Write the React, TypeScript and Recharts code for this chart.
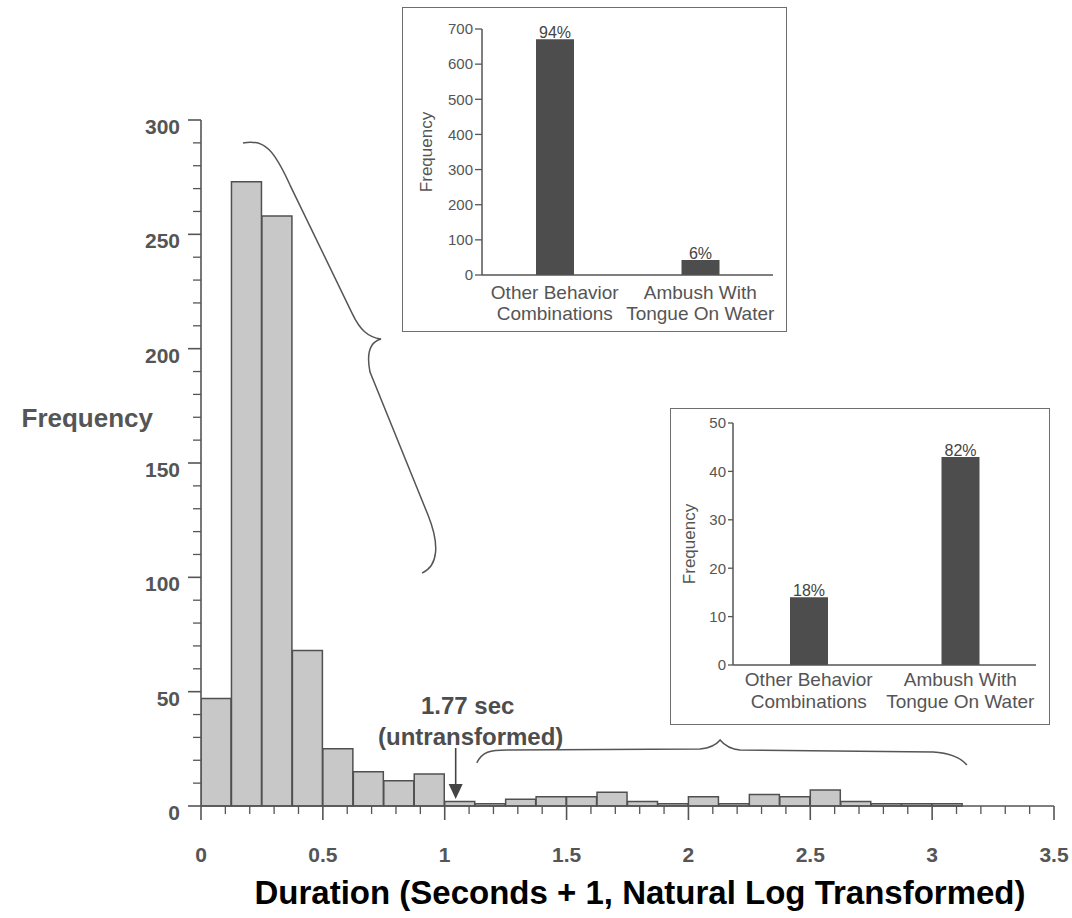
import React from 'react';
import { ComposedChart, BarChart, Bar, XAxis, YAxis, ReferenceDot, LabelList } from 'recharts';

// ---------- main histogram data (bin width 0.125, values are bin centres) ----------
const BIN_MIDS = [0.0625, 0.1875, 0.3125, 0.4375, 0.5625, 0.6875, 0.8125, 0.9375, 1.0625, 1.1875, 1.3125, 1.4375, 1.5625, 1.6875, 1.8125, 1.9375, 2.0625, 2.1875, 2.3125, 2.4375, 2.5625, 2.6875, 2.8125, 2.9375, 3.0625];
const BIN_COUNTS = [47, 273, 258, 68, 25, 15, 11, 14, 2, 1, 3, 4, 4, 6, 2, 1, 4, 1, 5, 4, 7, 2, 1, 1, 1];

const X_MAJOR_TICKS = [0, 0.5, 1, 1.5, 2, 2.5, 3, 3.5];
const X_TICK_LABELS = ['0', '0.5', '1', '1.5', '2', '2.5', '3', '3.5'];
const X_MINOR_STEP = 0.1;
const Y_MAJOR_TICKS = [0, 50, 100, 150, 200, 250, 300];
const Y_MINOR_STEP = 10;

// ---------- inset data ----------
const INSET_CATEGORIES = ['Other Behavior\nCombinations', 'Ambush With\nTongue On Water'];
const INSET1_VALUES = [671, 43];
const INSET1_PCT = ['94%', '6%'];
const INSET1_TICKS = [0, 100, 200, 300, 400, 500, 600, 700];
const INSET2_VALUES = [14, 43];
const INSET2_PCT = ['18%', '82%'];
const INSET2_TICKS = [0, 10, 20, 30, 40, 50];

// annotation anchors (data coordinates)
const ARROW_X = 1.045;
const BRACE1_TIP = { x: 0.7386, y: 204.2 };
const BRACE2_TIP = { x: 2.13, y: 28.9 };

const FONT = '"Liberation Sans", Arial, Helvetica, sans-serif';

const histData = BIN_MIDS.map((m, i) => ({ mid: m, count: BIN_COUNTS[i] }));

const allXTicks: number[] = [];
for (let i = 0; i <= Math.round(3.5 / X_MINOR_STEP); i++) allXTicks.push(Math.round(i * X_MINOR_STEP * 1000) / 1000);
const allYTicks: number[] = [];
for (let v = 0; v <= 300; v += Y_MINOR_STEP) allYTicks.push(v);

function MainYTick(props: any) {
  const { x, y, payload } = props;
  const v = payload.value;
  const major = Y_MAJOR_TICKS.includes(v);
  return (
    <g>
      <line x1={x - (major ? 13 : 8)} x2={x} y1={y} y2={y} stroke="#555" strokeWidth={major ? 1.6 : 1.3} />
      {major && (
        <text x={x - 21} y={y + 14} textAnchor="end" fontFamily={FONT} fontWeight="bold" fontSize={21} fill="#555">
          {v}
        </text>
      )}
    </g>
  );
}

function MainXTick(props: any) {
  const { x, y, payload } = props;
  const v = payload.value;
  const idx = X_MAJOR_TICKS.findIndex((m) => Math.abs(m - v) < 1e-6);
  const major = idx >= 0;
  return (
    <g>
      <line x1={x} x2={x} y1={y} y2={y + (major ? 14 : 8)} stroke="#555" strokeWidth={major ? 1.6 : 1.3} />
      {major && (
        <text x={x} y={y + 56} textAnchor="middle" fontFamily={FONT} fontWeight="bold" fontSize={21} fill="#555">
          {X_TICK_LABELS[idx]}
        </text>
      )}
    </g>
  );
}

function ArrowShape(props: any) {
  const { cx, cy } = props;
  return (
    <g transform={`translate(${cx},${cy})`}>
      <text x={12} y={-92} textAnchor="middle" fontFamily={FONT} fontWeight="bold" fontSize={24} fill="#4d4d4d">1.77 sec</text>
      <text x={15} y={-61} textAnchor="middle" fontFamily={FONT} fontWeight="bold" fontSize={24} fill="#4d4d4d">(untransformed)</text>
      <line x1={0} x2={0} y1={-58} y2={-20} stroke="#444" strokeWidth={1.6} />
      <path d="M -7 -22 L 7 -22 L 0 -7 Z" fill="#444" />
    </g>
  );
}

function Brace1Shape(props: any) {
  const { cx, cy } = props;
  return (
    <path
      transform={`translate(${cx},${cy})`}
      d="M -138 -196 C -116 -201 -106 -187 -91 -154 L -29 -26 C -21 -9 -13 -2 0 0 C -11 3 -15 13 -11 33 L 47 176 C 59 206 57 227 41 234"
      fill="none"
      stroke="#555"
      strokeWidth={1.5}
    />
  );
}

function Brace2Shape(props: any) {
  const { cx, cy } = props;
  return (
    <path
      transform={`translate(${cx},${cy})`}
      d="M -243.3 23 C -238 12 -230 10 -213 10 L -20 9 C -10 8 -4 5 0 0 C 4 5 10 9 20 10 L 213 12 C 230 13 240 17 246.7 25"
      fill="none"
      stroke="#555"
      strokeWidth={1.5}
    />
  );
}

function InsetCatTick(props: any) {
  const { x, y, payload, d1, d2 } = props;
  const lines = String(payload.value).split('\n');
  return (
    <g>
      <text x={x} y={y + d1} textAnchor="middle" fontFamily={FONT} fontSize={19} fill="#555">{lines[0]}</text>
      <text x={x} y={y + d2} textAnchor="middle" fontFamily={FONT} fontSize={19} fill="#555">{lines[1]}</text>
    </g>
  );
}

function Inset(props: any) {
  const { left, top, width, height, values, pcts, ticks, yMax, margin, yWidth, tickSize, labelX, d1, d2 } = props;
  const data = INSET_CATEGORIES.map((c, i) => ({ name: c, value: values[i], pct: pcts[i] }));
  return (
    <div style={{ position: 'absolute', left, top, width, height, boxSizing: 'border-box', border: '1.5px solid #6e6e6e', background: 'transparent' }}>
      <div style={{ position: 'absolute', left: -1.5, top: -1.5 }}>
        <BarChart width={width} height={height} data={data} margin={margin} barCategoryGap="0%">
          <XAxis
            dataKey="name"
            type="category"
            axisLine={{ stroke: '#555', strokeWidth: 1.5 }}
            tickLine={false}
            tickSize={0}
            tickMargin={0}
            height={50}
            interval={0}
            tick={<InsetCatTick d1={d1} d2={d2} />}
          />
          <YAxis
            domain={[0, yMax]}
            ticks={ticks}
            interval={0}
            width={yWidth}
            axisLine={{ stroke: '#555', strokeWidth: 1.5 }}
            tickLine={{ stroke: '#555', strokeWidth: 1.3 }}
            tickSize={tickSize}
            tickMargin={2}
            tick={{ fontFamily: FONT, fontSize: 15, fill: '#555' }}
            label={(p: any) => {
              const vb = p.viewBox || {};
              const cy = (vb.y || 0) + (vb.height || 0) / 2;
              return (
                <text x={labelX} y={cy} transform={`rotate(-90 ${labelX} ${cy})`} textAnchor="middle" dominantBaseline="central" fontFamily={FONT} fontSize={17} fill="#555">
                  Frequency
                </text>
              );
            }}
          />
          <Bar dataKey="value" fill="#4d4d4d" barSize={38} isAnimationActive={false}>
            <LabelList dataKey="pct" position="top" offset={1} style={{ fontFamily: FONT, fontSize: 16, fill: '#444' }} />
          </Bar>
        </BarChart>
      </div>
    </div>
  );
}

export default function App() {
  return (
    <div style={{ position: 'absolute', left: 0, top: 0, width: 1072, height: 918, background: '#fff', overflow: 'hidden' }}>
      <div style={{ position: 'absolute', left: 0, top: 0 }}>
        <ComposedChart width={1072} height={918} data={histData} margin={{ top: 120, right: 18, left: 141, bottom: 62 }} barCategoryGap={0} barGap={0}>
          <XAxis
            dataKey="mid"
            type="number"
            domain={[0, 3.5]}
            allowDataOverflow
            ticks={allXTicks}
            interval={0}
            tick={<MainXTick />}
            tickLine={false}
            tickSize={0}
            tickMargin={0}
            height={50}
            axisLine={{ stroke: '#555', strokeWidth: 1.6 }}
            label={(p: any) => {
              const vb = p.viewBox || {};
              return (
                <text x={(vb.x || 0) + 439} y={(vb.y || 0) + 98} textAnchor="middle" fontFamily={FONT} fontWeight="bold" fontSize={33} fill="#000">
                  Duration (Seconds + 1, Natural Log Transformed)
                </text>
              );
            }}
          />
          <YAxis
            domain={[0, 300]}
            ticks={allYTicks}
            interval={0}
            width={60}
            tick={<MainYTick />}
            tickLine={false}
            tickSize={0}
            tickMargin={0}
            axisLine={{ stroke: '#555', strokeWidth: 1.6 }}
            label={(p: any) => {
              const vb = p.viewBox || {};
              return (
                <text x={153} y={(vb.y || 0) + (vb.height || 0) / 2 - 36} textAnchor="end" fontFamily={FONT} fontWeight="bold" fontSize={26} fill="#555">
                  Frequency
                </text>
              );
            }}
          />
          <Bar dataKey="count" fill="#c8c8c8" stroke="#505050" strokeWidth={1.5} isAnimationActive={false} />
          <ReferenceDot x={ARROW_X} y={0} ifOverflow="visible" shape={<ArrowShape />} />
          <ReferenceDot x={BRACE1_TIP.x} y={BRACE1_TIP.y} ifOverflow="visible" shape={<Brace1Shape />} />
          <ReferenceDot x={BRACE2_TIP.x} y={BRACE2_TIP.y} ifOverflow="visible" shape={<Brace2Shape />} />
        </ComposedChart>
      </div>
      <Inset
        left={402}
        top={7}
        width={385}
        height={325}
        values={INSET1_VALUES}
        pcts={INSET1_PCT}
        ticks={INSET1_TICKS}
        yMax={700}
        margin={{ top: 22, right: 14, left: 30, bottom: 7 }}
        yWidth={50}
        tickSize={7}
        labelX={24}
        d1={24}
        d2={45}
      />
      <Inset
        left={670}
        top={408}
        width={380}
        height={317}
        values={INSET2_VALUES}
        pcts={INSET2_PCT}
        ticks={INSET2_TICKS}
        yMax={50}
        margin={{ top: 15, right: 14, left: 23, bottom: 10 }}
        yWidth={40}
        tickSize={5}
        labelX={19}
        d1={21}
        d2={43}
      />
    </div>
  );
}
